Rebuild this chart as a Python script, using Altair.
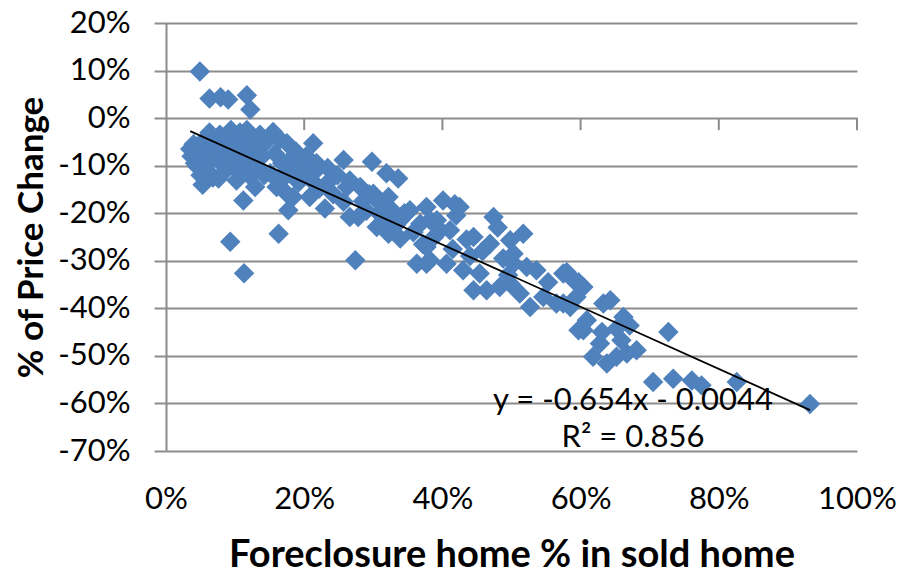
import altair as alt
import pandas as pd

# Foreclosure share of sold homes (%) and price change (%) per market
foreclosure_pct = [
    4.9, 6.3, 7.9, 9.0, 11.7, 12.2,
    3.5, 3.7, 4.0, 4.2, 4.4, 4.6, 4.9, 5.0, 5.2, 5.3, 5.6, 5.8, 6.0, 6.3, 6.5,
    6.8, 7.0, 7.3, 7.6, 7.8, 8.0, 8.3, 8.6, 8.8, 9.1, 9.4, 9.6, 9.9, 10.2, 10.4,
    10.7, 10.9, 11.2, 11.5, 11.7, 11.9, 12.2, 12.4, 12.7, 12.9, 13.1, 13.4, 13.6,
    13.9, 14.2,
    9.3, 11.3, 11.2,
    14.5, 15.1, 15.5, 15.8, 16.0, 16.3, 16.5, 16.8, 17.1, 17.5, 17.5, 17.7, 17.9,
    18.2, 18.4, 18.8, 19.2, 19.4, 19.9, 20.3, 20.8, 21.0, 21.3, 21.3, 21.8, 22.2,
    23.0, 23.4, 23.7, 24.2, 24.8, 25.7, 25.7, 26.2, 26.6, 26.6, 27.4, 27.8, 28.1,
    28.5, 29.0, 29.4, 29.8, 30.0, 30.5, 30.8, 31.0, 31.5, 31.9, 32.2, 32.2, 32.8,
    33.3, 33.6, 33.9, 33.9, 34.5, 35.3, 35.8,
    36.3, 36.8, 37.2, 37.7, 37.7, 37.7, 38.2, 38.2, 38.8, 39.2, 39.7, 40.1, 40.6,
    41.1, 41.5, 41.8, 42.0, 42.5, 43.0, 43.5, 44.0, 44.5, 44.5, 45.4, 45.8, 46.4,
    46.9, 47.4, 48.0, 48.3, 48.8, 49.5, 49.8, 49.8, 50.3, 50.3, 51.2, 51.7, 52.2,
    52.7, 53.6, 54.6, 55.3,
    56.5, 57.5, 57.5, 58.0, 58.5, 59.0, 59.4, 59.7, 59.7, 60.4, 60.4, 60.9, 61.8,
    62.8, 63.1, 63.3, 63.8, 64.3, 65.2, 65.2, 65.9, 66.2, 66.7, 67.1, 68.1, 72.7,
    70.5, 73.4, 76.1, 77.5, 82.6, 93.2,
]
price_change_pct = [
    9.8, 4.1, 4.4, 3.9, 4.8, 1.8,
    -6.5, -8.0, -5.5, -9.5, -7.0, -10.3, -6.0, -12.0, -8.5, -14.0, -4.5, -10.8,
    -7.5, -3.0, -9.0, -12.5, -5.0, -7.5, -12.7, -3.5, -9.5, -6.0, -11.0, -4.0,
    -8.0, -2.5, -10.0, -5.5, -13.1, -7.0, -3.0, -9.5, -11.5, -4.5, -2.5, -7.0,
    -12.3, -9.0, -5.0, -14.5, -6.7, -10.5, -3.5, -8.0, -12.0,
    -26.0, -32.6, -17.3,
    -5.0, -11.6, -2.9, -7.5, -14.5, -24.3, -4.5, -9.5, -12.5, -5.3, -15.9, -19.4,
    -8.8, -11.0, -16.6, -7.0, -13.5, -10.0, -10.9, -8.0, -16.6, -13.0, -5.3,
    -11.6, -9.5, -14.8,
    -19.0, -10.5, -13.1, -16.0, -12.0, -8.8, -17.6, -14.5, -13.1, -20.8, -29.9,
    -20.8, -14.5, -17.5, -19.5, -16.0, -9.2, -15.9, -22.9, -20.0, -18.0, -21.5,
    -11.6, -16.6, -24.3, -19.5, -22.5, -12.7, -21.5, -25.3, -20.0, -19.4, -24.0,
    -30.6, -22.2, -26.5, -18.7, -27.1, -30.6, -21.5, -29.9, -25.0, -21.5, -23.6,
    -17.3, -30.6, -23.6, -27.5, -18.1, -20.5, -18.7, -32.0, -25.5, -29.0, -25.0,
    -36.2, -32.7, -28.0, -36.2, -26.4, -20.8, -23.0, -35.5, -29.5, -33.0, -25.7,
    -34.8, -28.5, -30.6, -36.9, -24.3, -31.3, -39.7, -32.0, -37.6, -34.5,
    -39.0, -32.7, -39.0, -32.4, -39.7, -34.1, -37.6, -34.5, -44.6, -35.5, -44.6,
    -42.5, -50.2, -47.4, -45.0, -39.0, -51.6, -38.3, -44.3, -50.2, -46.7, -41.8,
    -49.5, -43.6, -48.8, -45.0,
    -55.5, -54.8, -55.2, -56.2, -55.5, -60.1,
]

# Linear trendline reported for the data
slope = -0.654
intercept = -0.0044
r_squared = 0.856

x_ticks = [0.0, 0.2, 0.4, 0.6, 0.8, 1.0]
y_ticks = [-0.7, -0.6, -0.5, -0.4, -0.3, -0.2, -0.1, 0.0, 0.1, 0.2]

points = pd.DataFrame({
    "share": [v / 100 for v in foreclosure_pct],
    "change": [v / 100 for v in price_change_pct],
})
x_lo, x_hi = points["share"].min(), points["share"].max()
trend = pd.DataFrame({
    "share": [x_lo, x_hi],
    "change": [slope * x_lo + intercept, slope * x_hi + intercept],
})
x_axis_ticks = pd.DataFrame({"share": x_ticks[1:]})

FONT = "Lato"
GRID = "#8C8C8C"
pct_label = "round(datum.value * 100) + '%'"

x_enc = alt.X(
    "share:Q",
    scale=alt.Scale(domain=[0, 1], nice=False, zero=False),
    axis=alt.Axis(
        values=x_ticks, labelExpr=pct_label, domain=False, ticks=False, grid=False,
        labelPadding=33, labelFontSize=31, labelFont=FONT, labelColor="black",
        labelFlush=False, labelOverlap=False, labelBound=False,
        title="Foreclosure home % in sold home", titleFont=FONT, titleFontSize=38,
        titleFontWeight="bold", titleColor="black", titleBaseline="alphabetic",
        titleY=115,
    ),
)
y_enc = alt.Y(
    "change:Q",
    scale=alt.Scale(domain=[-0.7, 0.2], nice=False, zero=False),
    axis=alt.Axis(
        values=y_ticks, labelExpr=pct_label, domain=True, domainColor=GRID,
        domainWidth=2, ticks=True, tickSize=12, tickColor=GRID, tickWidth=2,
        grid=True, gridColor=GRID, gridWidth=2,
        labelPadding=24, labelFontSize=31, labelFont=FONT, labelColor="black",
        labelOverlap=False, labelBound=False,
        title="% of Price Change", titleFont=FONT, titleFontSize=35,
        titleFontWeight="bold", titleColor="black", titleBaseline="alphabetic",
        titleX=-124,
    ),
)

scatter = alt.Chart(points).mark_point(
    shape="diamond", filled=True, size=420, color="#4F81BD", opacity=1
).encode(x=x_enc, y=y_enc)

# Category-axis tick marks hang below the 0% line
zero_ticks = alt.Chart(x_axis_ticks).mark_rule(color=GRID, strokeWidth=2).encode(
    x=x_enc, y=alt.datum(0), y2=alt.datum(-0.0253)
)

trend_line = alt.Chart(trend).mark_line(color="black", strokeWidth=1.8).encode(
    x=x_enc, y=y_enc
)

eq_text = f"y = {slope}x - {abs(intercept)}"
r2_text = f"R\u00b2 = {r_squared}"
eq_mark = alt.Chart(pd.DataFrame({"t": [eq_text]})).mark_text(
    font=FONT, fontSize=31, color="black", align="center", baseline="alphabetic"
).encode(text="t:N", x=alt.value(467), y=alt.value(387))
r2_mark = alt.Chart(pd.DataFrame({"t": [r2_text]})).mark_text(
    font=FONT, fontSize=31, color="black", align="center", baseline="alphabetic"
).encode(text="t:N", x=alt.value(467), y=alt.value(424))

chart = alt.layer(zero_ticks, scatter, trend_line, eq_mark, r2_mark).properties(
    width=691,
    height=428,
    autosize=alt.AutoSizeParams(type="none"),
    padding={"left": 166, "top": 23, "right": 47, "bottom": 123},
    background="white",
).configure_view(stroke=None)

chart.save("out.html", embed_options={"renderer": "svg", "actions": False})
